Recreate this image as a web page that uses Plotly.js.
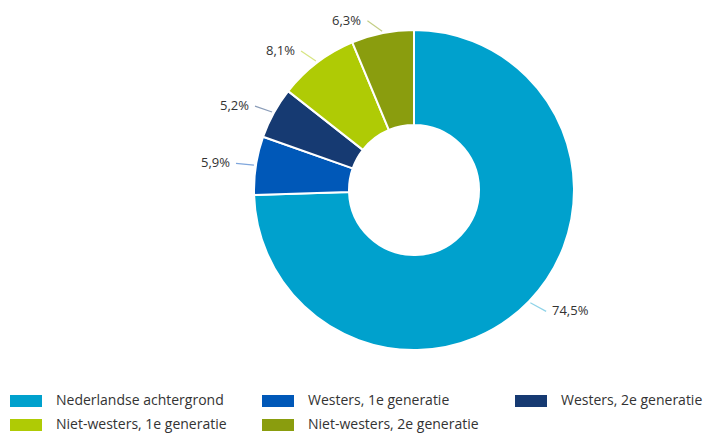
<!DOCTYPE html>
<html><head><meta charset="utf-8">
<script src="https://cdn.plot.ly/plotly-3.0.1.min.js"></script>
<style>html,body{margin:0;padding:0;background:#fff}#c{width:709px;height:434px}</style>
</head><body><div id="c"></div>
<script>
const categories = ["Nederlandse achtergrond","Westers, 1e generatie","Westers, 2e generatie","Niet-westers, 1e generatie","Niet-westers, 2e generatie"];
const values = [74.5, 5.9, 5.2, 8.1, 6.3];
const valueLabels = ["74,5%","5,9%","5,2%","8,1%","6,3%"];
const colors = ["#00a1cd","#0058b8","#163a72","#afcb05","#8a9d0e"];
const lineColors = ["#8fd3e8","#7fa6dc","#8a9cb8","#d7e582","#c4ce86"];

const W = 709, H = 434;
const cx = 414, cy = 190, R = 160;
const px = x => x / W, py = y => 1 - y / H;

const shapes = [], annotations = [];
const total = values.reduce((a,b)=>a+b,0);
let cum = 0;
values.forEach((v,i)=>{
  const mid = (cum + v/2) / total * 2*Math.PI; cum += v;
  const sx = Math.sin(mid), sy = -Math.cos(mid);
  const x1 = cx + sx*(R+2), y1 = cy + sy*(R+2);
  const radAng = Math.atan2(Math.abs(sy), Math.abs(sx));
  const ang = Math.min(radAng*0.65, 35*Math.PI/180);
  const L = 18, dir = sx >= 0 ? 1 : -1;
  const x2 = x1 + dir*L*Math.cos(ang), y2 = y1 + Math.sign(sy)*L*Math.sin(ang);
  shapes.push({type:'line', xref:'paper', yref:'paper', x0:px(x1), y0:py(y1), x1:px(x2), y1:py(y2), line:{color:lineColors[i], width:1.2}});
  annotations.push({xref:'paper', yref:'paper', x:px(x2 + dir*4), y:py(y2 - 1), xanchor: dir>0?'left':'right', yanchor:'middle', text:valueLabels[i], showarrow:false, font:{family:'Open Sans', size:13, color:'#333333'}});
});

// custom legend
const legX = [10, 262, 515], legY = [401, 425];
categories.forEach((c,i)=>{
  const col = i % 3, row = Math.floor(i/3);
  const x0 = legX[col], y0 = legY[row];
  shapes.push({type:'rect', xref:'paper', yref:'paper', x0:px(x0), x1:px(x0+32), y0:py(y0-6), y1:py(y0+6), fillcolor:colors[i], line:{width:0}});
  annotations.push({xref:'paper', yref:'paper', x:px(x0+45), y:py(y0-2), xanchor:'left', yanchor:'middle', borderpad:0, text:c, showarrow:false, font:{family:'Open Sans', size:14, color:'#333333'}});
});

const trace = {type:'pie', labels:categories, values:values, hole:65/160, sort:false, direction:'clockwise', rotation:0,
  marker:{colors:colors, line:{color:'#ffffff', width:2}}, textinfo:'none', hoverinfo:'label+percent',
  domain:{x:[px(cx-R), px(cx+R)], y:[py(cy+R), py(cy-R)]}, showlegend:false};

Plotly.newPlot('c', [trace], {width:W, height:H, margin:{l:0,r:0,t:0,b:0}, paper_bgcolor:'#fff', showlegend:false, shapes:shapes, annotations:annotations}, {displayModeBar:false, staticPlot:true});
</script></body></html>
